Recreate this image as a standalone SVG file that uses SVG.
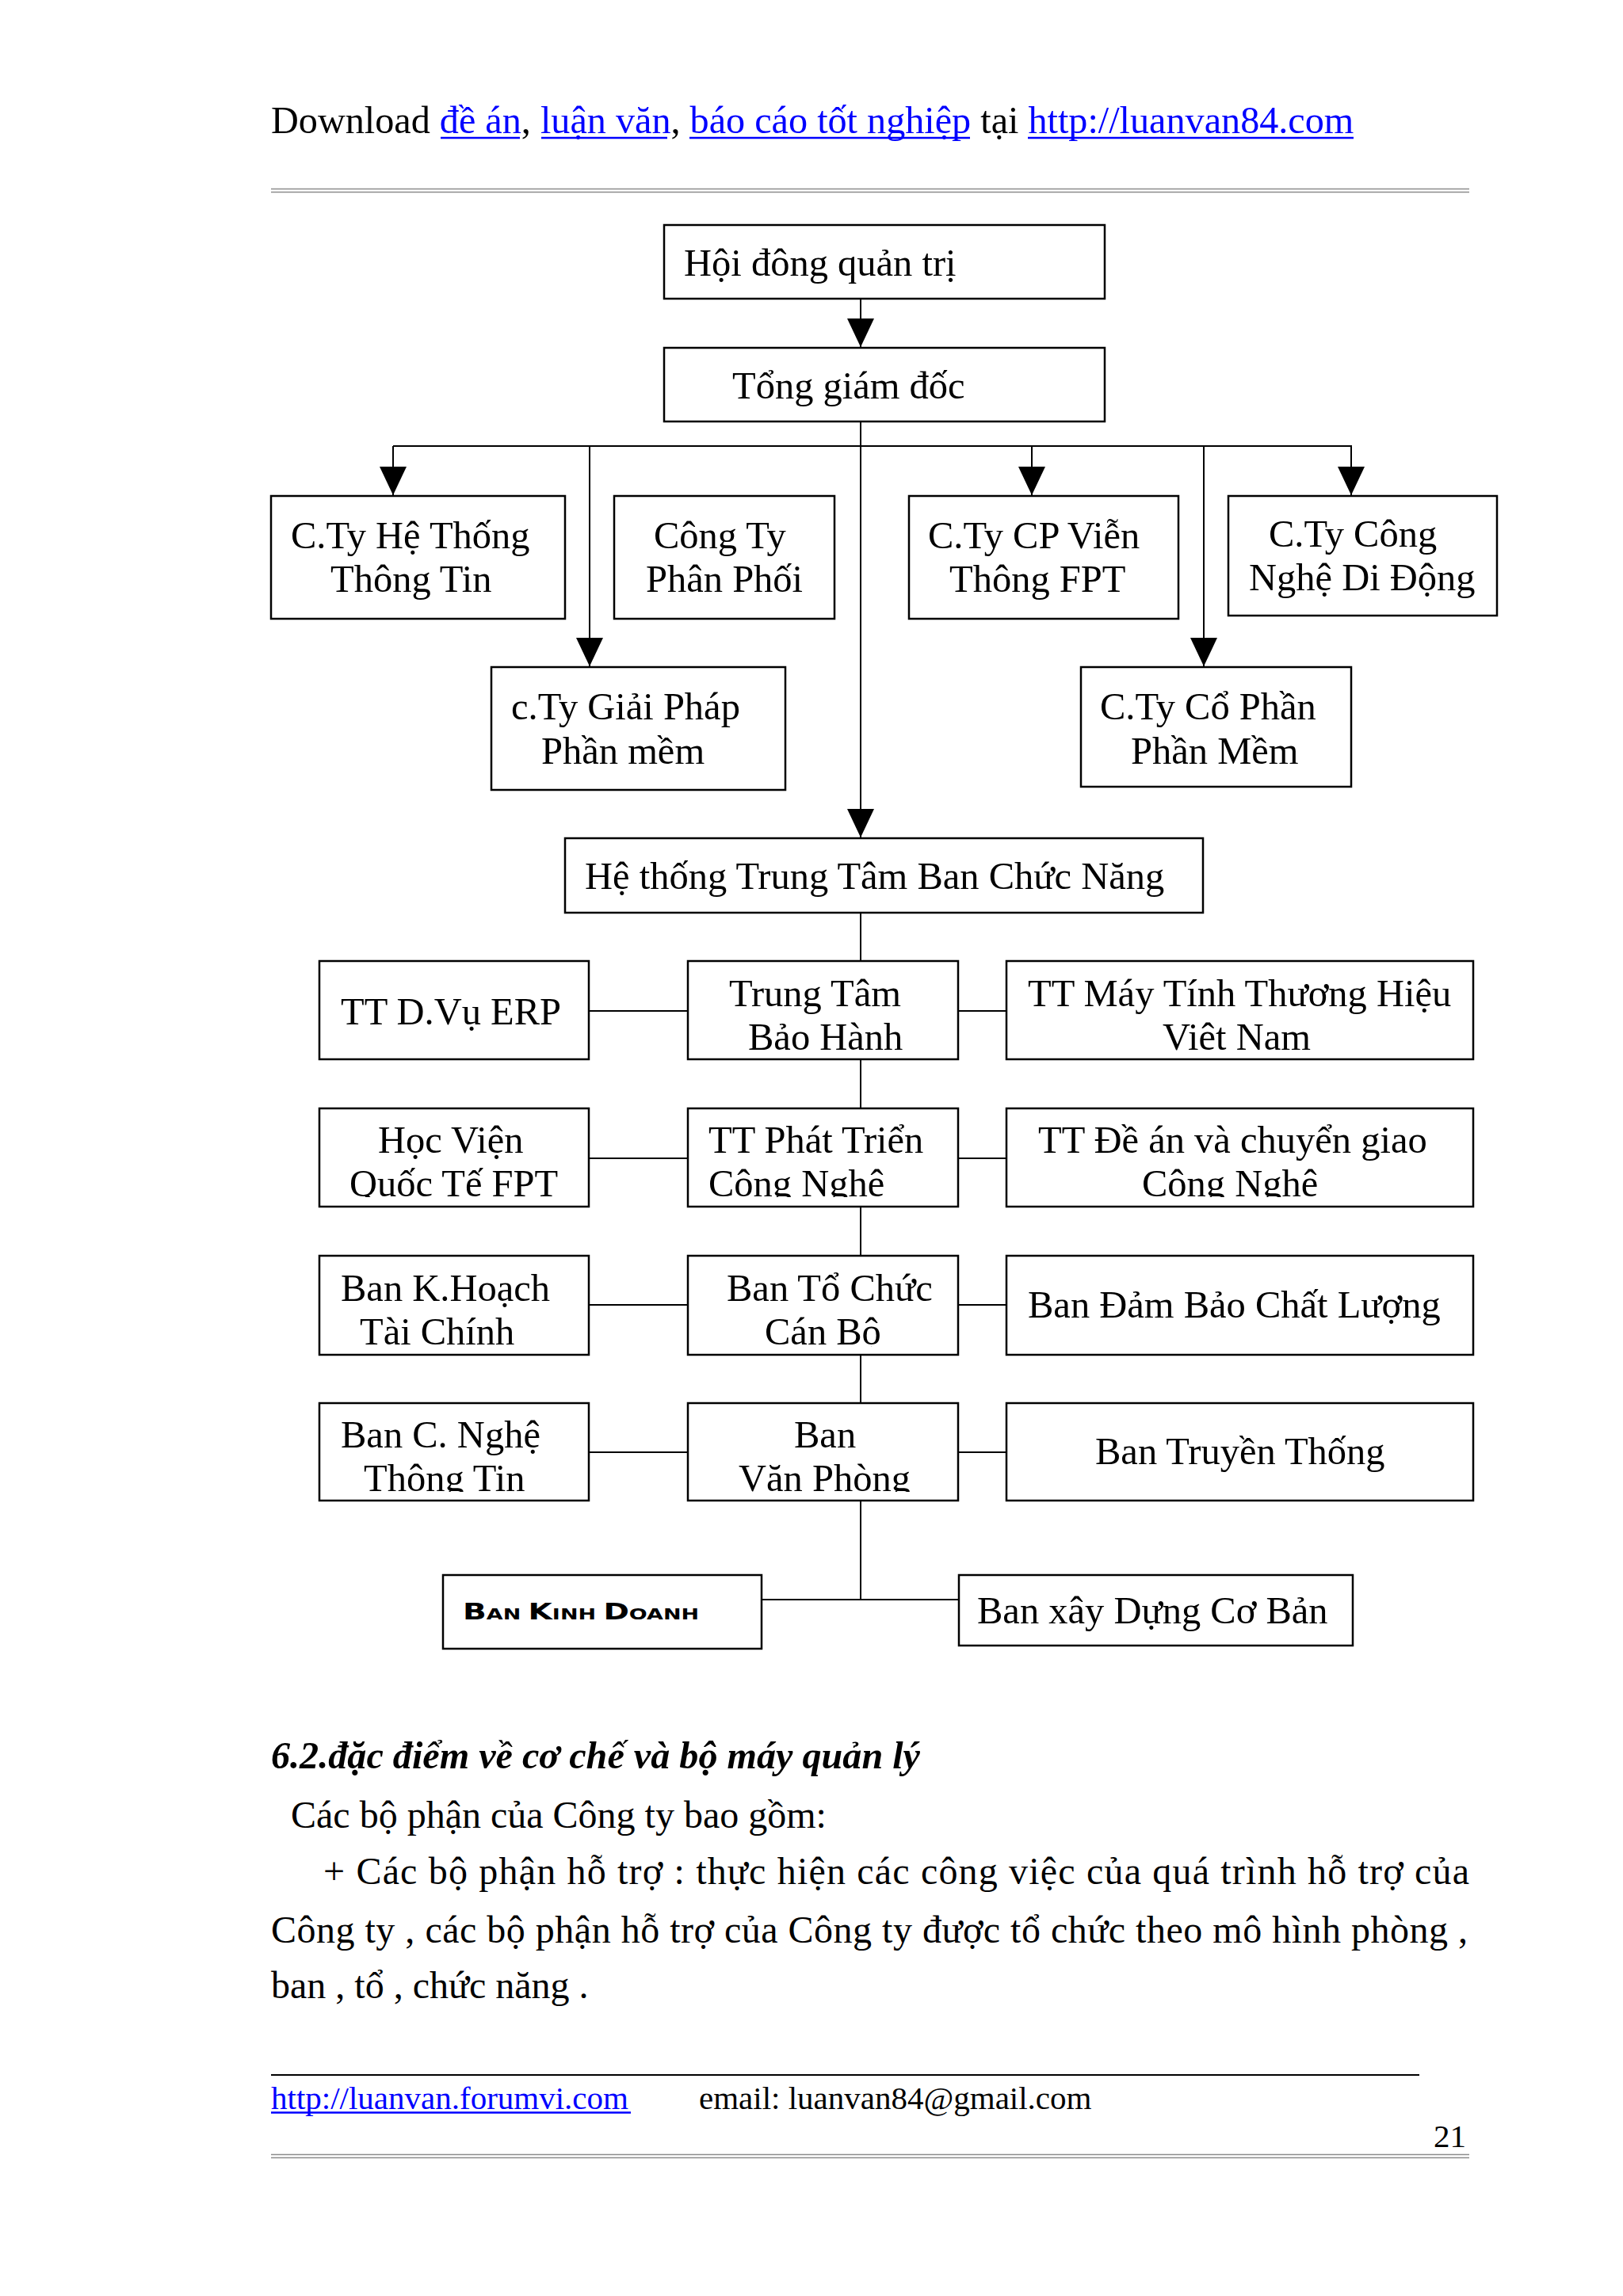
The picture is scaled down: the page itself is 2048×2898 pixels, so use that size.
<svg xmlns="http://www.w3.org/2000/svg" width="2048" height="2898" viewBox="0 0 2048 2898">
<style>
.box{fill:#fff;stroke:#000;stroke-width:2.5}
.t{font-family:"Liberation Serif","Times New Roman",serif;font-size:48.5px;fill:#000}
.b{font-family:"Liberation Serif","Times New Roman",serif;font-size:48px;fill:#000}
.f{font-family:"Liberation Serif","Times New Roman",serif;font-size:41px;fill:#000}
.lnk{fill:#0000ff}
.c{stroke:#000;stroke-width:2;fill:none}
.ul{stroke:#0000ff;stroke-width:2.5}
.gr{stroke:#8c8c8c;stroke-width:1.6}
.kd{font-family:"DejaVu Sans","Liberation Sans",sans-serif;font-weight:bold;fill:#000}
</style>
<defs>
<marker id="arr" markerUnits="userSpaceOnUse" viewBox="0 0 36 34" markerWidth="36" markerHeight="34" refX="36" refY="17" orient="auto">
<path d="M0,0 L36,17 L0,34 Z" fill="#000"/>
</marker>
<clipPath id="clipA"><rect x="300" y="1200" width="1600" height="127"/></clipPath>
<clipPath id="clipB"><rect x="300" y="1390" width="1600" height="121"/></clipPath>
<clipPath id="clipC"><rect x="300" y="1580" width="1600" height="120"/></clipPath>
<clipPath id="clipD"><rect x="300" y="1765" width="1600" height="118"/></clipPath>
</defs>
<rect width="2048" height="2898" fill="#fff"/>

<g id="header">
<text class="b" x="342" y="168" style="font-size:48.2px">Download <tspan class="lnk">đề án</tspan>, <tspan class="lnk">luận văn</tspan>, <tspan class="lnk">báo cáo tốt nghiệp</tspan> tại <tspan class="lnk">http://luanvan84.com</tspan></text>
<line class="ul" x1="556" y1="174" x2="656" y2="174"/>
<line class="ul" x1="683" y1="174" x2="842" y2="174"/>
<line class="ul" x1="870" y1="174" x2="1224" y2="174"/>
<line class="ul" x1="1297" y1="174" x2="1708" y2="174"/>
<line class="gr" x1="342" y1="238.5" x2="1854" y2="238.5"/>
<line class="gr" x1="342" y1="242.5" x2="1854" y2="242.5"/>
</g>

<g id="connectors">
<path class="c" d="M1086,377 V438" marker-end="url(#arr)"/>
<path class="c" d="M1086,532 V1057" marker-end="url(#arr)"/>
<path class="c" d="M496,563 H1706"/>
<path class="c" d="M496,563 V625" marker-end="url(#arr)"/>
<path class="c" d="M744,563 V841" marker-end="url(#arr)"/>
<path class="c" d="M1302,563 V625" marker-end="url(#arr)"/>
<path class="c" d="M1519,563 V841" marker-end="url(#arr)"/>
<path class="c" d="M1705,563 V625" marker-end="url(#arr)"/>
<path class="c" d="M1086,1152 V1213"/>
<path class="c" d="M1086,1337 V1399"/>
<path class="c" d="M1086,1523 V1585"/>
<path class="c" d="M1086,1710 V1771"/>
<path class="c" d="M1086,1894 V2019"/>
<path class="c" d="M961,2019 H1210"/>
<path class="c" d="M743,1276 H868 M1209,1276 H1270"/>
<path class="c" d="M743,1462 H868 M1209,1462 H1270"/>
<path class="c" d="M743,1647 H868 M1209,1647 H1270"/>
<path class="c" d="M743,1833 H868 M1209,1833 H1270"/>
</g>

<g id="hoi-dong-quan-tri">
<rect class="box" x="838" y="284" width="556" height="93"/>
<text class="t" x="863" y="348">Hội đông quản trị</text>
</g>
<g id="tong-giam-doc">
<rect class="box" x="838" y="439" width="556" height="93"/>
<text class="t" x="924" y="503">Tổng giám đốc</text>
</g>

<g id="cty-he-thong-thong-tin">
<rect class="box" x="342" y="626" width="371" height="155"/>
<text class="t" x="367" y="692">C.Ty Hệ Thống</text>
<text class="t" x="417" y="747">Thông Tin</text>
</g>
<g id="cong-ty-phan-phoi">
<rect class="box" x="775" y="626" width="278" height="155"/>
<text class="t" x="825" y="692">Công Ty</text>
<text class="t" x="815" y="747">Phân Phối</text>
</g>
<g id="cty-cp-vien-thong">
<rect class="box" x="1147" y="626" width="340" height="155"/>
<text class="t" x="1171" y="692">C.Ty CP Viễn</text>
<text class="t" x="1198" y="747">Thông FPT</text>
</g>
<g id="cty-cong-nghe-di-dong">
<rect class="box" x="1550" y="626" width="339" height="151"/>
<text class="t" x="1601" y="690">C.Ty Công</text>
<text class="t" x="1576" y="745">Nghệ Di Động</text>
</g>

<g id="cty-giai-phap-phan-mem">
<rect class="box" x="620" y="842" width="371" height="155"/>
<text class="t" x="645" y="908">c.Ty Giải Pháp</text>
<text class="t" x="683" y="964">Phần mềm</text>
</g>
<g id="cty-co-phan-phan-mem">
<rect class="box" x="1364" y="842" width="341" height="151"/>
<text class="t" x="1388" y="908">C.Ty Cổ Phần</text>
<text class="t" x="1427" y="964">Phần Mềm</text>
</g>

<g id="he-thong-trung-tam">
<rect class="box" x="713" y="1058" width="805" height="94"/>
<text class="t" x="738" y="1122">Hệ thống Trung Tâm Ban Chức Năng</text>
</g>

<g id="tt-dvu-erp">
<rect class="box" x="403" y="1213" width="340" height="124"/>
<text class="t" x="430" y="1293">TT D.Vụ ERP</text>
</g>
<g id="trung-tam-bao-hanh">
<rect class="box" x="868" y="1213" width="341" height="124"/>
<g clip-path="url(#clipA)">
<text class="t" x="920" y="1270">Trung Tâm</text>
<text class="t" x="944" y="1325">Bảo Hành</text>
</g>
</g>
<g id="tt-may-tinh">
<rect class="box" x="1270" y="1213" width="589" height="124"/>
<g clip-path="url(#clipA)">
<text class="t" x="1297" y="1270">TT Máy Tính Thương Hiệu</text>
<text class="t" x="1467" y="1325">Việt Nam</text>
</g>
</g>

<g id="hoc-vien-quoc-te">
<rect class="box" x="403" y="1399" width="340" height="124"/>
<g clip-path="url(#clipB)">
<text class="t" x="477" y="1455">Học Viện</text>
<text class="t" x="441" y="1510">Quốc Tế FPT</text>
</g>
</g>
<g id="tt-phat-trien">
<rect class="box" x="868" y="1399" width="341" height="124"/>
<g clip-path="url(#clipB)">
<text class="t" x="894" y="1455">TT Phát Triển</text>
<text class="t" x="894" y="1510">Công Nghệ</text>
</g>
</g>
<g id="tt-de-an">
<rect class="box" x="1270" y="1399" width="589" height="124"/>
<g clip-path="url(#clipB)">
<text class="t" x="1310" y="1455">TT Đề án và chuyển giao</text>
<text class="t" x="1441" y="1510">Công Nghệ</text>
</g>
</g>

<g id="ban-ke-hoach">
<rect class="box" x="403" y="1585" width="340" height="125"/>
<g clip-path="url(#clipC)">
<text class="t" x="430" y="1642">Ban K.Hoạch</text>
<text class="t" x="454" y="1697">Tài Chính</text>
</g>
</g>
<g id="ban-to-chuc">
<rect class="box" x="868" y="1585" width="341" height="125"/>
<g clip-path="url(#clipC)">
<text class="t" x="917" y="1642">Ban Tổ Chức</text>
<text class="t" x="965" y="1697">Cán Bộ</text>
</g>
</g>
<g id="ban-dam-bao">
<rect class="box" x="1270" y="1585" width="589" height="125"/>
<text class="t" x="1297" y="1663">Ban Đảm Bảo Chất Lượng</text>
</g>

<g id="ban-cong-nghe">
<rect class="box" x="403" y="1771" width="340" height="123"/>
<g clip-path="url(#clipD)">
<text class="t" x="430" y="1827">Ban C. Nghệ</text>
<text class="t" x="459" y="1882">Thông Tin</text>
</g>
</g>
<g id="ban-van-phong">
<rect class="box" x="868" y="1771" width="341" height="123"/>
<g clip-path="url(#clipD)">
<text class="t" x="1002" y="1827">Ban</text>
<text class="t" x="932" y="1882">Văn Phòng</text>
</g>
</g>
<g id="ban-truyen-thong">
<rect class="box" x="1270" y="1771" width="589" height="123"/>
<text class="t" x="1382" y="1848">Ban Truyền Thống</text>
</g>

<g id="ban-kinh-doanh">
<rect class="box" x="559" y="1988" width="402" height="93"/>
<text class="kd" x="584" y="2044" textLength="298" lengthAdjust="spacingAndGlyphs"><tspan style="font-size:29px">B</tspan><tspan style="font-size:20px">AN </tspan><tspan style="font-size:29px">K</tspan><tspan style="font-size:20px">INH </tspan><tspan style="font-size:29px">D</tspan><tspan style="font-size:20px">OANH</tspan></text>
</g>
<g id="ban-xay-dung">
<rect class="box" x="1210" y="1988" width="497" height="89"/>
<text class="t" x="1233" y="2049">Ban xây Dựng Cơ Bản</text>
</g>

<g id="body">
<text class="b" x="342" y="2232" style="font-weight:bold;font-style:italic" textLength="819" lengthAdjust="spacingAndGlyphs">6.2.đặc điểm về cơ chế và bộ máy quản lý</text>
<text class="b" x="367" y="2307">Các bộ phận của Công ty bao gồm:</text>
<text class="b" x="408" y="2378" textLength="1446" lengthAdjust="spacing">+ Các bộ phận hỗ trợ : thực hiện các công việc của quá trình hỗ trợ của</text>
<text class="b" x="342" y="2452" textLength="1510" lengthAdjust="spacing">Công ty , các bộ phận hỗ trợ của Công ty được tổ chức theo mô hình phòng ,</text>
<text class="b" x="342" y="2522">ban , tổ , chức năng .</text>
</g>

<g id="footer">
<line x1="342" y1="2619" x2="1791" y2="2619" stroke="#000" stroke-width="2"/>
<text class="f lnk" x="342" y="2662">http://luanvan.forumvi.com</text>
<line class="ul" x1="342" y1="2666.5" x2="796" y2="2666.5" stroke-width="2"/>
<text class="f" x="882" y="2662">email: luanvan84@gmail.com</text>
<text class="f" x="1850" y="2710" text-anchor="end">21</text>
<line class="gr" x1="342" y1="2719.5" x2="1854" y2="2719.5"/>
<line class="gr" x1="342" y1="2723.5" x2="1854" y2="2723.5"/>
</g>
</svg>
